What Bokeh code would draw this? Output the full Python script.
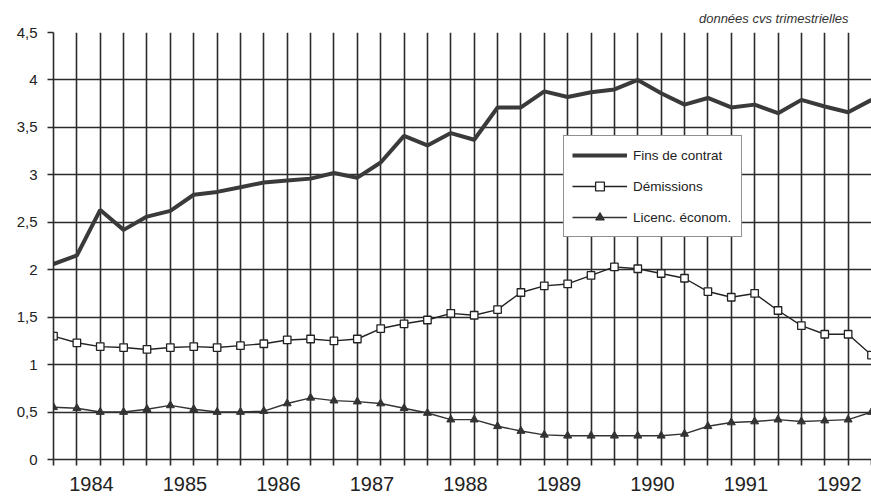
from bokeh.plotting import figure
from bokeh.models import FixedTicker, Range1d, Title, Legend, LegendItem
from bokeh.embed import file_html
from bokeh.resources import INLINE

# ---- data (quarterly, seasonally adjusted) ----
years = ["1984", "1985", "1986", "1987", "1988", "1989", "1990", "1991", "1992"]
fins_de_contrat = [2.06, 2.15, 2.63, 2.42, 2.56, 2.62, 2.79, 2.82, 2.87, 2.92, 2.94, 2.96,
                   3.02, 2.97, 3.13, 3.41, 3.31, 3.44, 3.37, 3.71, 3.71, 3.88, 3.82, 3.87,
                   3.90, 4.00, 3.86, 3.74, 3.81, 3.71, 3.74, 3.65, 3.79, 3.72, 3.66, 3.79]
demissions = [1.30, 1.23, 1.19, 1.18, 1.16, 1.18, 1.19, 1.18, 1.20, 1.22, 1.26, 1.27,
              1.25, 1.27, 1.38, 1.43, 1.47, 1.54, 1.52, 1.58, 1.76, 1.83, 1.85, 1.94,
              2.03, 2.01, 1.96, 1.91, 1.77, 1.71, 1.75, 1.57, 1.41, 1.32, 1.32, 1.10]
licenc_econom = [0.55, 0.54, 0.50, 0.50, 0.53, 0.57, 0.53, 0.50, 0.50, 0.51, 0.59, 0.65,
                 0.62, 0.61, 0.59, 0.54, 0.49, 0.42, 0.42, 0.35, 0.30, 0.26, 0.25, 0.25,
                 0.25, 0.25, 0.25, 0.27, 0.35, 0.39, 0.40, 0.42, 0.40, 0.41, 0.42, 0.50]
y_ticks = [0.0, 0.5, 1.0, 1.5, 2.0, 2.5, 3.0, 3.5, 4.0, 4.5]
y_tick_labels = ["0", "0,5", "1", "1,5", "2", "2,5", "3", "3,5", "4", "4,5"]
subtitle = "données cvs trimestrielles"

INK = "#2b2b2b"
FONT = "Liberation Sans"

n = len(fins_de_contrat)
x = list(range(n))
year_pos = [4 * k + 1.625 for k in range(len(years))]

p = figure(frame_width=818, frame_height=427, output_backend="svg", toolbar_location=None,
           x_range=Range1d(0, n - 1), y_range=Range1d(0, 4.5),
           min_border_left=53, min_border_top=32, min_border_right=0, min_border_bottom=37,
           background_fill_color="white", border_fill_color="white")
p.outline_line_color = None

# grids
p.xgrid.ticker = FixedTicker(ticks=x)
p.ygrid.ticker = FixedTicker(ticks=y_ticks)
for g in (p.xgrid, p.ygrid):
    g.grid_line_color = INK
    g.grid_line_width = 1.6
    g.grid_line_alpha = 1

# x axis: quarter ticks as minor ticks, year labels as major ticks
xa = p.xaxis[0]
xa.ticker = FixedTicker(ticks=year_pos, minor_ticks=x)
xa.major_label_overrides = {pos: yr for pos, yr in zip(year_pos, years)}
xa.major_tick_line_color = None
xa.major_tick_out = 0
xa.major_tick_in = 0
xa.minor_tick_out = 6
xa.minor_tick_in = 0
xa.minor_tick_line_color = INK
xa.minor_tick_line_width = 1.6
xa.axis_line_color = INK
xa.axis_line_width = 1.6
xa.major_label_text_font = FONT
xa.major_label_text_font_size = "20px"
xa.major_label_text_color = "#222"
xa.major_label_standoff = 11

ya = p.yaxis[0]
ya.ticker = FixedTicker(ticks=y_ticks)
ya.major_label_overrides = {t: s for t, s in zip(y_ticks, y_tick_labels)}
ya.major_tick_out = 6
ya.major_tick_in = 0
ya.major_tick_line_color = INK
ya.major_tick_line_width = 1.6
ya.minor_tick_line_color = None
ya.axis_line_color = INK
ya.axis_line_width = 1.6
ya.major_label_text_font = FONT
ya.major_label_text_font_size = "15px"
ya.major_label_text_color = "#222"
ya.major_label_standoff = 10

# series
r1 = p.line(x, fins_de_contrat, line_width=4, line_color="#3a3a3a")
r2l = p.line(x, demissions, line_width=1.4, line_color="#222")
r2m = p.scatter(x, demissions, marker="square", size=7.5, fill_color="white",
                line_color="#222", line_width=1.3)
r3l = p.line(x, licenc_econom, line_width=1.4, line_color="#333")
r3m = p.scatter(x, licenc_econom, marker="triangle", size=8, fill_color="#333",
                line_color="#333", line_width=1)

legend = Legend(items=[LegendItem(label="Fins de contrat", renderers=[r1]),
                       LegendItem(label="Démissions", renderers=[r2l, r2m]),
                       LegendItem(label="Licenc. économ.", renderers=[r3l, r3m])],
                location=(510, 222), margin=0, padding=8, spacing=9,
                glyph_width=55, glyph_height=22, label_standoff=6, label_width=100,
                label_text_font=FONT, label_text_font_size="13.5px", label_text_color="#222",
                border_line_color="#222", border_line_width=1.5,
                background_fill_color="white", background_fill_alpha=1)
p.add_layout(legend)

p.add_layout(Title(text=subtitle, align="right", offset=23, standoff=13,
                   text_font=FONT, text_font_style="italic", text_font_size="13px",
                   text_color="#333"), "above")

open("out.html", "w").write(file_html(p, INLINE))
